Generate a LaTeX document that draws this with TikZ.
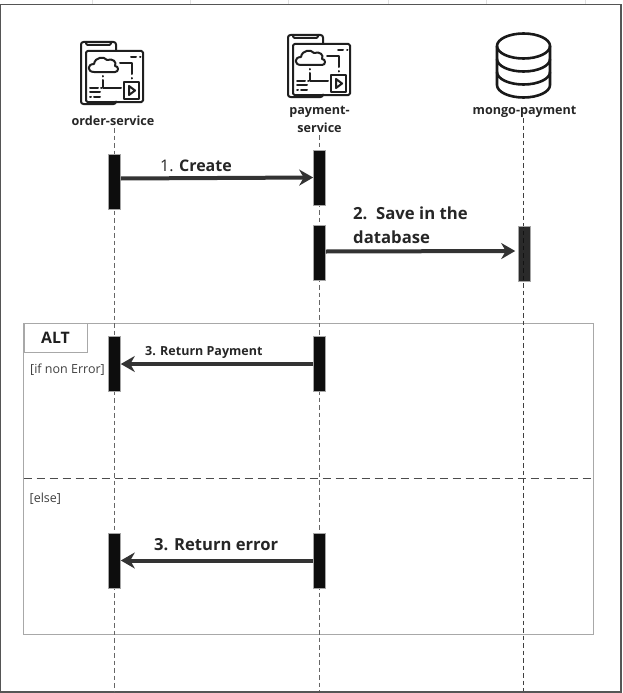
\documentclass[tikz,border=0pt]{standalone}
\usepackage{fontspec}
\setmainfont{Open Sans}
\usetikzlibrary{arrows.meta}
\definecolor{arrowc}{HTML}{333333}
\definecolor{framec}{HTML}{A8A8A8}
\definecolor{borderc}{HTML}{555555}
\tikzset{
  lifeline/.style={draw=black!60,dash pattern=on 4.5pt off 3pt,line width=1pt},
  activation/.style={draw=black!35,fill=black!95,line width=0.6pt,minimum width=12pt,minimum height=55pt,inner sep=0pt,anchor=north},
  message/.style={draw=arrowc,line width=4pt,-{Stealth[length=14pt,width=16pt,inset=4.5pt]}},
  actorlabel/.style={font=\bfseries\fontsize{12.6}{18}\selectfont,text=black!85,align=center,inner sep=0pt},
  msglabel/.style={text=black!85,inner sep=0pt,align=left},
  frameline/.style={draw=framec,line width=0.9pt},
  icon/.style={line width=2pt,draw=black!88,line join=round,line cap=round}
}
\newcommand{\appicon}[2]{%
  \begin{scope}[shift={(#1,#2)}]
    \draw[icon,rounded corners=2.5pt] (35,9) -- (35,0) -- (0,0) -- (0,62) -- (35,62) -- (35,60);
    \draw[icon,rounded corners=1.5pt] (5,0) -- (5,3) -- (30,3) -- (30,0);
    \draw[icon,rounded corners=1.5pt] (5,9) rectangle (62,60);
    \draw[icon] (50,15) -- (55,15) (59,15) -- (59.5,15);
    \draw[icon] (13,30) .. controls (6,30) and (6,22) .. (13,22) .. controls (14,15) and (23,14) .. (26,18) .. controls (32,16) and (36,20) .. (34,24) .. controls (38,24) and (38,30) .. (34,30) -- (13,30);
    \draw[icon] (39,21) -- (51,21) -- (51,32) (51,36) -- (51,36.5);
    \draw[icon] (22,34) -- (22,34.5) (22,38) -- (22,46) -- (40,46);
    \draw[icon] (43,40) rectangle (58,57);
    \draw[icon] (48,44) -- (54,48.5) -- (48,53) -- cycle;
    \draw[icon] (9,46) -- (17,46) (20,46) -- (20.5,46) (9,50) -- (19,50) (9,55) -- (10,55) (13,55) -- (19,55);
  \end{scope}}
\begin{document}
\begin{tikzpicture}[x=1pt,y=-1pt]
\useasboundingbox (0,0) rectangle (623,693);
\fill[white] (0,0) rectangle (623,693);
\draw[draw=black!12,line width=0.7pt] (92,0)--(92,4) (190,0)--(190,4) (288,0)--(288,4) (388,0)--(388,4) (486,0)--(486,4) (585,0)--(585,4);
\draw[draw=borderc,line width=1.3pt] (0.8,4.5) rectangle (621,692);

\coordinate (orderTop) at (114.5,128);
\coordinate (orderEnd) at (114.5,691);
\coordinate (payTop) at (319.5,135);
\coordinate (payEnd) at (319.5,691);
\coordinate (mongoTop) at (523.5,118);
\coordinate (mongoEnd) at (523.5,691);

% frame
\draw[frameline] (23.5,323) rectangle (593.5,634);
\node[frameline,draw,fill=white,minimum width=63pt,minimum height=29pt,inner sep=0pt,anchor=north west,font=\bfseries\fontsize{15.8}{18}\selectfont,text=black!88] (alt) at (23.5,323) {ALT};
\node[anchor=west,inner sep=0pt,font=\fontsize{12.5}{14}\selectfont,text=black!75] (cond1) at (30,369.5) {[if non Error]};
\node[anchor=west,inner sep=0pt,font=\fontsize{12.5}{14}\selectfont,text=black!75] (cond2) at (29.5,498.5) {[else]};
\coordinate (sepL) at (23.5,478.5);
\coordinate (sepR) at (593.5,478.5);
\draw[draw=black!70,line width=1.5pt,dash pattern=on 8pt off 5pt] (sepL) -- (sepR);

% lifelines
\draw[lifeline] (orderTop) -- (orderEnd);
\draw[lifeline] (payTop) -- (payEnd);
\draw[lifeline,draw=black!75] (mongoTop) -- (mongoEnd);

% actors
\appicon{81}{42}
\appicon{288}{35}
\node[actorlabel] (order) at (113,121) {order-service};
\node[actorlabel] (pay) at (319.5,119.5) {payment-\\service};
\node[actorlabel] (mongo) at (524.5,111.5) {mongo-payment};
\begin{scope}[line width=2.6pt,draw=black!90]
  \draw (497,46) arc[start angle=180,end angle=-180,x radius=26.5,y radius=12.5];
  \draw (497,46) -- (497,85) arc[start angle=180,end angle=0,x radius=26.5,y radius=12.5] -- (550,46);
  \draw (497,59) arc[start angle=180,end angle=0,x radius=26.5,y radius=12.5];
  \draw (497,72) arc[start angle=180,end angle=0,x radius=26.5,y radius=12.5];
\end{scope}

% activations
\node[activation] (a1) at (114.5,153.5) {};
\node[activation] (b1) at (319.5,150) {};
\node[activation] (b2) at (319.5,225) {};
\node[activation,fill opacity=.88] (c1) at (524.5,226) {};
\node[activation] (a2) at (114.5,336) {};
\node[activation] (b3) at (319.5,336) {};
\node[activation] (a3) at (114.5,532.5) {};
\node[activation] (b4) at (319.5,532.5) {};

% messages
\draw[message] (a1.east |- 0,178.5) -- (b1.west |- 0,177.5);
\draw[message] (b2.east |- 0,251.5) -- ([xshift=-3pt]c1.west |- 0,251);
\draw[message] (b3.west |- 0,364) -- (a2.east |- 0,364);
\draw[message] (b4.west |- 0,560.5) -- (a3.east |- 0,560.5);

\node[msglabel,anchor=base west,font=\fontsize{16}{20}\selectfont] (m1) at (160,171) {1. \textbf{Create}};
\node[msglabel,anchor=north west,font=\bfseries\fontsize{16.7}{24}\selectfont] (m2) at (353,206.5) {2.\ \ Save in the\\database};
\node[msglabel,anchor=base west,font=\bfseries\fontsize{12.5}{14}\selectfont] (m3) at (145,355.5) {3. Return Payment};
\node[msglabel,anchor=base west,font=\bfseries\fontsize{16.6}{18}\selectfont] (m4) at (154,550.5) {3. Return error};
\end{tikzpicture}
\end{document}
